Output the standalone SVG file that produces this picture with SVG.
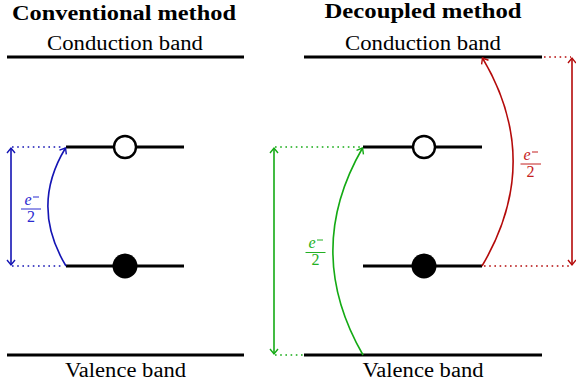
<svg xmlns="http://www.w3.org/2000/svg" width="576" height="390" viewBox="0 0 576 390">
<style>
.t{font-size:20px;fill:#000;text-anchor:middle}
.h{font-weight:bold;font-size:20px}
.band{stroke:#000;stroke-width:3;fill:none}
.conn{fill:none;stroke-width:1.6}
.dot{fill:none;stroke-width:1.6;stroke-dasharray:1.6 3.6}
.blue{stroke:#1414b4}
.green{stroke:#14aa14}
.red{stroke:#b40a0a}
.frac{font-size:16px;text-anchor:middle}
</style>
<defs>
<marker id="ab" viewBox="-6 -5 8 10" markerWidth="8" markerHeight="10" refX="0" refY="0" orient="auto-start-reverse" markerUnits="userSpaceOnUse"><path d="M-5,-4 L0,0 L-5,4" fill="none" stroke="#1414b4" stroke-width="1.4"/></marker>
<marker id="ag" viewBox="-6 -5 8 10" markerWidth="8" markerHeight="10" refX="0" refY="0" orient="auto-start-reverse" markerUnits="userSpaceOnUse"><path d="M-5,-4 L0,0 L-5,4" fill="none" stroke="#14aa14" stroke-width="1.4"/></marker>
<marker id="ar" viewBox="-6 -5 8 10" markerWidth="8" markerHeight="10" refX="0" refY="0" orient="auto-start-reverse" markerUnits="userSpaceOnUse"><path d="M-5,-4 L0,0 L-5,4" fill="none" stroke="#b40a0a" stroke-width="1.4"/></marker>
</defs>

<g font-family="Liberation Serif, DejaVu Serif, serif">
<text class="t h" x="124" y="20" textLength="224" lengthAdjust="spacingAndGlyphs">Conventional method</text>
<text class="t h" x="423" y="17.5" textLength="197" lengthAdjust="spacingAndGlyphs">Decoupled method</text>

<g id="left-conduction"><line class="band" x1="7" y1="57" x2="244" y2="57"/><text class="t" x="125" y="50" textLength="156" lengthAdjust="spacingAndGlyphs">Conduction band</text></g>
<g id="left-valence"><line class="band" x1="7" y1="355" x2="244" y2="355"/><text class="t" x="125.5" y="377" textLength="121" lengthAdjust="spacingAndGlyphs">Valence band</text></g>
<g id="left-upper"><line class="band" x1="66" y1="147" x2="184" y2="147"/><circle cx="125" cy="147" r="11" fill="#fff" stroke="#000" stroke-width="2.4"/></g>
<g id="left-lower"><line class="band" x1="66" y1="266" x2="184" y2="266"/><circle cx="125" cy="266" r="12.5" fill="#000"/></g>

<g id="right-conduction"><line class="band" x1="304" y1="57" x2="542" y2="57"/><text class="t" x="423" y="50" textLength="156" lengthAdjust="spacingAndGlyphs">Conduction band</text></g>
<g id="right-valence"><line class="band" x1="304" y1="355" x2="542" y2="355"/><text class="t" x="423" y="377" textLength="121" lengthAdjust="spacingAndGlyphs">Valence band</text></g>
<g id="right-upper"><line class="band" x1="363" y1="147" x2="482" y2="147"/><circle cx="424" cy="147" r="11" fill="#fff" stroke="#000" stroke-width="2.4"/></g>
<g id="right-lower"><line class="band" x1="363" y1="266" x2="482" y2="266"/><circle cx="424" cy="266" r="12.5" fill="#000"/></g>

<g id="connectors">
<line class="dot blue" x1="12" y1="147" x2="64" y2="147"/>
<line class="dot blue" x1="12" y1="266" x2="64" y2="266"/>
<line class="conn blue" x1="11" y1="148" x2="11" y2="265" marker-start="url(#ab)" marker-end="url(#ab)"/>
<path class="conn blue" d="M66,266 Q30,206.5 65.5,148" marker-end="url(#ab)"/>

<line class="dot green" x1="275" y1="147" x2="362" y2="147"/>
<line class="dot green" x1="275" y1="355" x2="303" y2="355"/>
<line class="conn green" x1="274" y1="148" x2="274" y2="354" marker-start="url(#ag)" marker-end="url(#ag)"/>
<path class="conn green" d="M363,355 Q303,251 362.5,148" marker-end="url(#ag)"/>

<line class="dot red" x1="544" y1="57" x2="571" y2="57"/>
<line class="dot red" x1="484" y1="266" x2="571" y2="266"/>
<line class="conn red" x1="572" y1="58" x2="572" y2="265" marker-start="url(#ar)" marker-end="url(#ar)"/>
<path class="conn red" d="M482,266 Q544,161.5 482.5,58" marker-end="url(#ar)"/>
</g>

<g id="label-blue">
<text class="frac" x="28" y="205" font-style="italic" fill="#2a2ad0">e</text>
<line x1="33" y1="197" x2="39" y2="197" stroke="#2a2ad0" stroke-width="1"/>
<line x1="21" y1="209" x2="41" y2="209" stroke="#2a2ad0" stroke-width="1"/>
<text class="frac" x="31" y="222" fill="#2a2ad0">2</text>
</g>
<g id="label-green">
<text class="frac" x="312" y="248" font-style="italic" fill="#22b022">e</text>
<line x1="317" y1="240" x2="323" y2="240" stroke="#22b022" stroke-width="1"/>
<line x1="305.5" y1="252.5" x2="325.5" y2="252.5" stroke="#22b022" stroke-width="1"/>
<text class="frac" x="315.5" y="265" fill="#22b022">2</text>
</g>
<g id="label-red">
<text class="frac" x="527" y="160" font-style="italic" fill="#c42020">e</text>
<line x1="532" y1="152" x2="538" y2="152" stroke="#c42020" stroke-width="1"/>
<line x1="520.5" y1="164" x2="541" y2="164" stroke="#c42020" stroke-width="1"/>
<text class="frac" x="530.5" y="177" fill="#c42020">2</text>
</g>
</g>
</svg>
